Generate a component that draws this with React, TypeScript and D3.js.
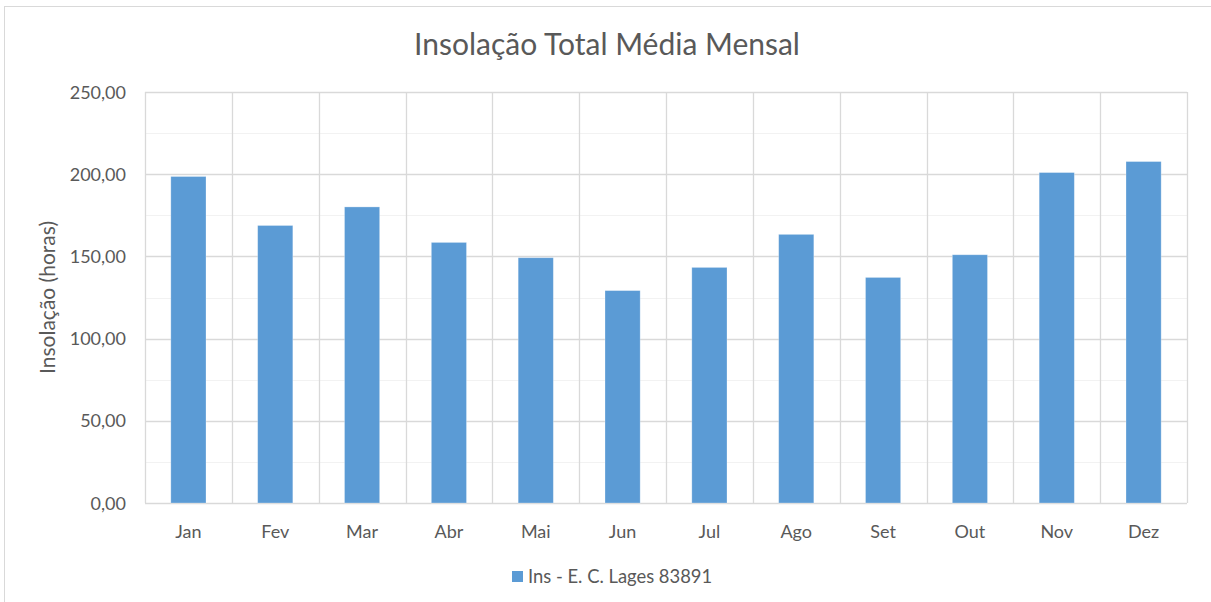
import React from "react";
import * as d3 from "d3";

const months = ["Jan", "Fev", "Mar", "Abr", "Mai", "Jun", "Jul", "Ago", "Set", "Out", "Nov", "Dez"];
const insolacao = [198.6, 168.8, 180.1, 158.5, 149.2, 129.2, 143.3, 163.4, 137.2, 151.0, 201.0, 207.7];
const yTicks = [0, 50, 100, 150, 200, 250];
const yMinorTicks = [25, 75, 125, 175, 225];
const title = "Insolação Total Média Mensal";
const yTitle = "Insolação (horas)";
const seriesName = "Ins - E. C. Lages 83891";

const W = 1211;
const H = 602;
const FONT = "Lato, 'Open Sans', sans-serif";
const TXT = "#595959";
const BAR = "#5B9BD5";

export default function App() {
  const left = 145, right = 1187, top = 92, bottom = 503;
  const x = d3.scaleBand<string>().domain(months).range([left, right]).paddingInner(0).paddingOuter(0);
  const y = d3.scaleLinear().domain([0, 250]).range([bottom, top]);
  const bw = x.bandwidth() * 0.405;
  const fmt = (v: number) => v.toFixed(2).replace(".", ",");

  return (
    <svg width={W} height={H} style={{ position: "absolute", left: 0, top: 0 }}>
      <rect x={0} y={0} width={W} height={H} fill="#fff" />
      <rect x={4.5} y={6.5} width={W + 10} height={H + 10} fill="#fff" stroke="#d9d9d9" strokeWidth={1} />
      <text x={607} y={55} textAnchor="middle" fontFamily={FONT} fontSize={30} fill={TXT}>{title}</text>
      {yMinorTicks.map((t) => (
        <line key={"m" + t} x1={left} x2={right} y1={Math.round(y(t)) + 0.5} y2={Math.round(y(t)) + 0.5} stroke="#f2f2f2" strokeWidth={1} />
      ))}
      {yTicks.map((t) => (
        <line key={"g" + t} x1={left} x2={right} y1={Math.round(y(t)) + 0.5} y2={Math.round(y(t)) + 0.5} stroke="#d9d9d9" strokeWidth={1.3} />
      ))}
      {months.map((m) => (
        <line key={"v" + m} x1={Math.round(x(m)!) + 0.5} x2={Math.round(x(m)!) + 0.5} y1={top} y2={bottom} stroke="#d9d9d9" strokeWidth={1.3} />
      ))}
      <line x1={right + 0.5} x2={right + 0.5} y1={top} y2={bottom} stroke="#d9d9d9" strokeWidth={1.3} />
      {months.map((m, i) => {
        const cx = x(m)! + x.bandwidth() / 2;
        return (
          <rect key={"b" + m} x={cx - bw / 2} y={y(insolacao[i])} width={bw} height={y(0) - y(insolacao[i])} fill={BAR} stroke="#fff" strokeOpacity={0.35} strokeWidth={0.8} />
        );
      })}
      {yTicks.map((t) => (
        <text key={"t" + t} x={126} y={y(t) + 6.5} textAnchor="end" fontFamily={FONT} fontSize={18} fill={TXT}>{fmt(t)}</text>
      ))}
      {months.map((m) => (
        <text key={"l" + m} x={x(m)! + x.bandwidth() / 2} y={537.5} textAnchor="middle" fontFamily={FONT} fontSize={18} fill={TXT}>{m}</text>
      ))}
      <text transform={`translate(55, ${(top + bottom) / 2}) rotate(-90)`} textAnchor="middle" fontFamily={FONT} fontSize={21} fill={TXT}>{yTitle}</text>
      <rect x={512} y={571} width={11} height={11} fill={BAR} />
      <text x={528} y={583} fontFamily={FONT} fontSize={18.4} fill={TXT}>{seriesName}</text>
    </svg>
  );
}
